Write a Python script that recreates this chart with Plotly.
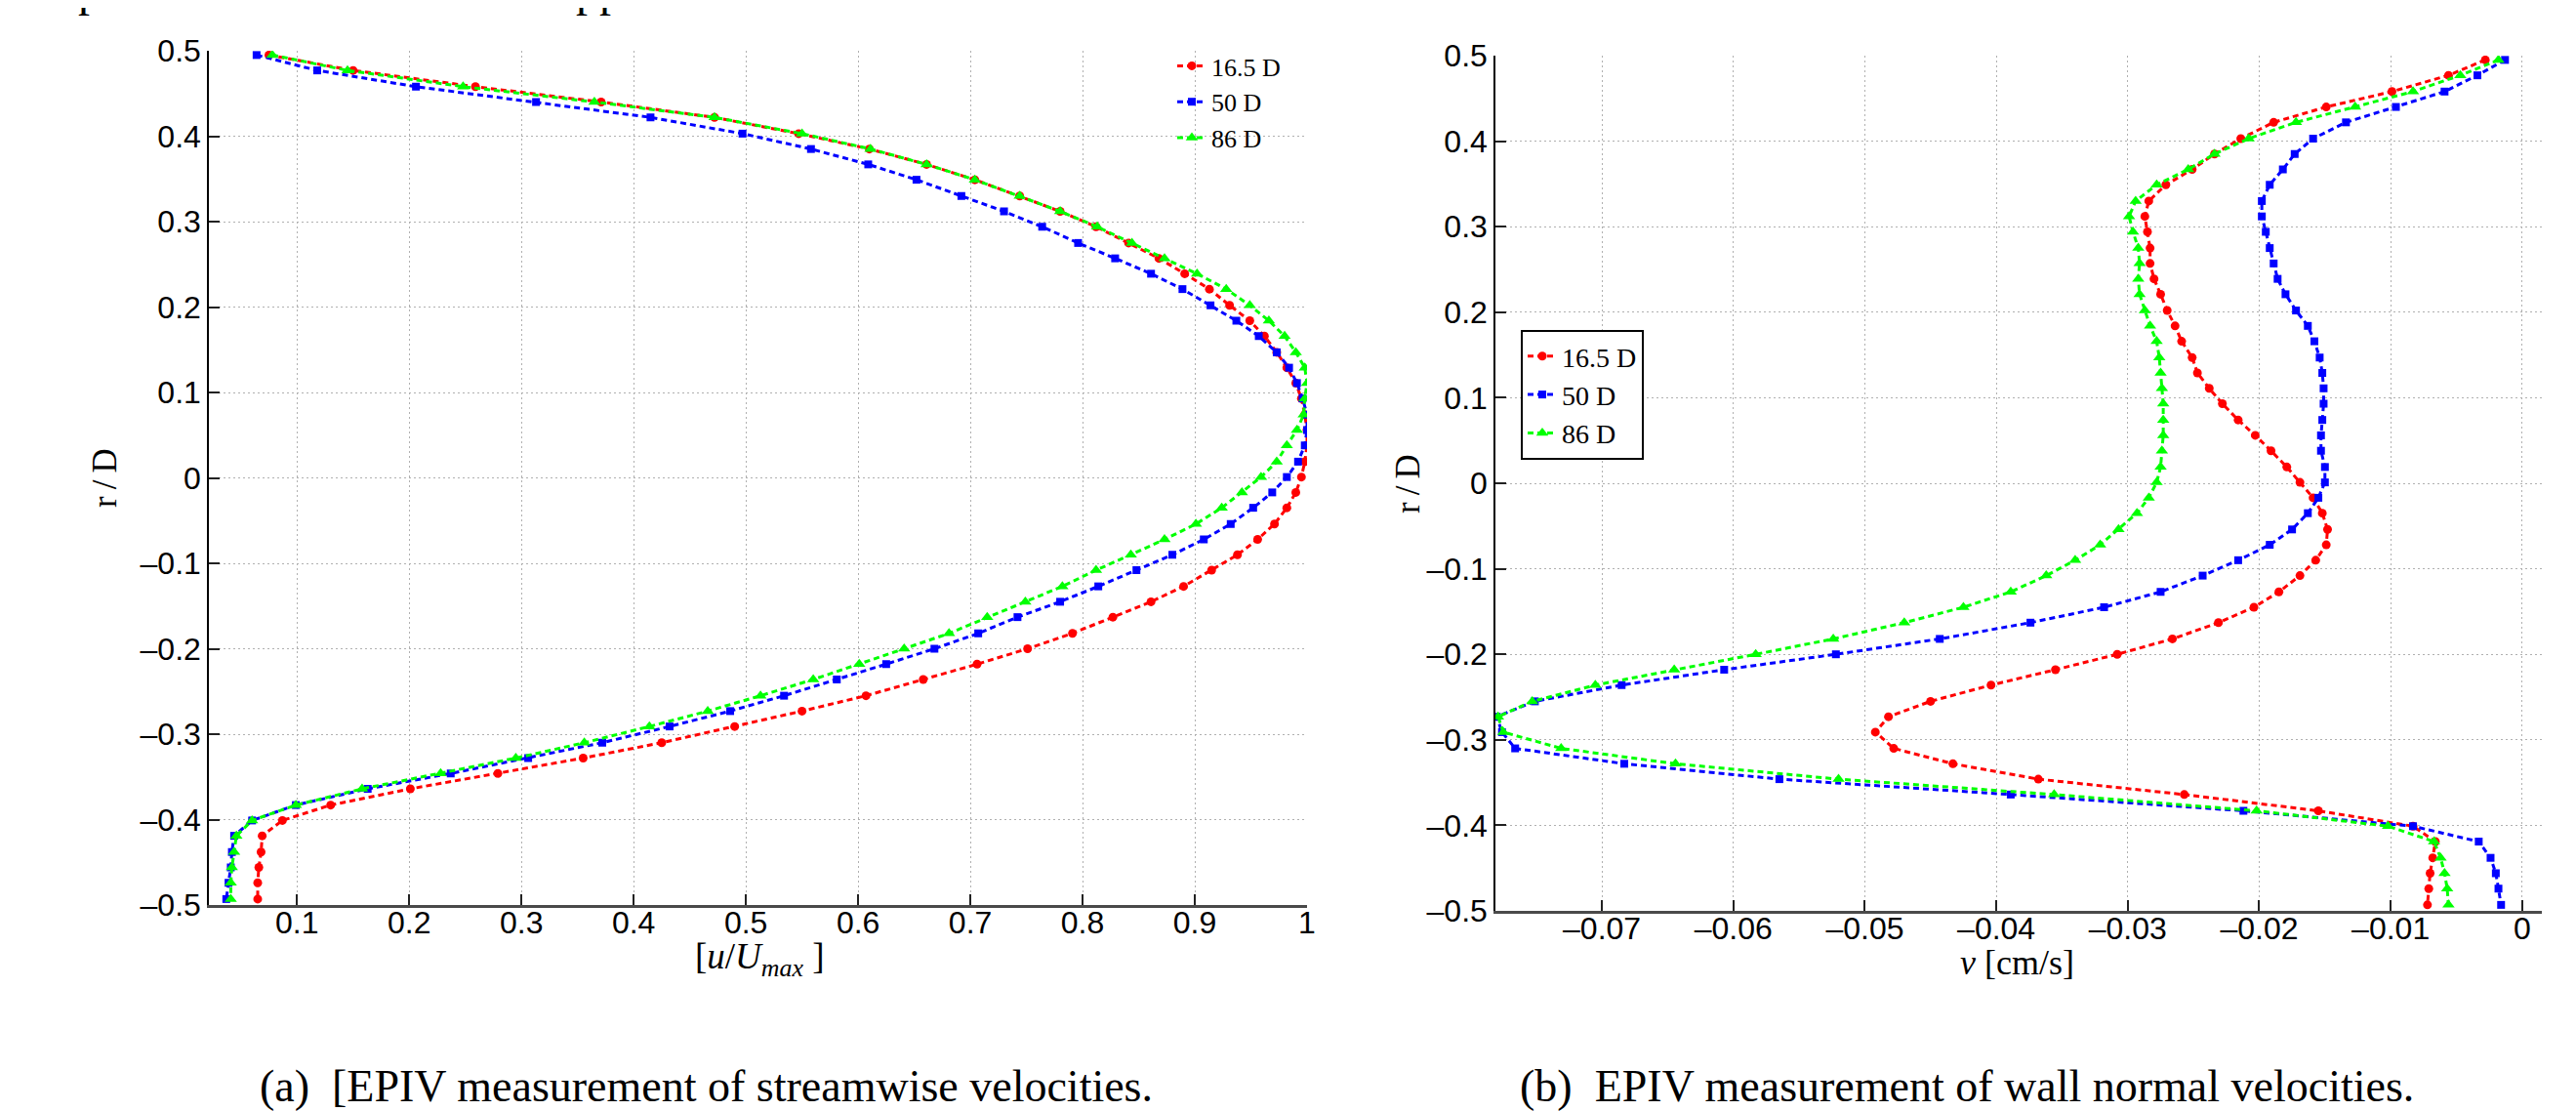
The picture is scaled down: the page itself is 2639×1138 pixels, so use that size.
import plotly.graph_objects as go

# Figure size in pixels
W, H = 2639, 1138

# Radial positions r/D shared by every profile (top to bottom)
R_D = [0.495, 0.477, 0.458, 0.440, 0.422, 0.403, 0.385, 0.367, 0.349, 0.330,
       0.312, 0.294, 0.275, 0.257, 0.239, 0.221, 0.202, 0.184, 0.166, 0.147,
       0.129, 0.111, 0.093, 0.074, 0.056, 0.038, 0.019, 0.001, -0.017, -0.035,
       -0.054, -0.072, -0.090, -0.108, -0.127, -0.145, -0.163, -0.182, -0.200, -0.218,
       -0.236, -0.255, -0.273, -0.291, -0.310, -0.328, -0.346, -0.364, -0.383, -0.401,
       -0.419, -0.438, -0.456, -0.474, -0.493]

# (a) streamwise velocity u/Umax
U_16_5D = [0.075, 0.150, 0.259, 0.371, 0.472, 0.547, 0.610, 0.661, 0.704, 0.744,
           0.780, 0.812, 0.841, 0.868, 0.891, 0.913, 0.931, 0.949, 0.962, 0.973,
           0.982, 0.990, 0.995, 0.998, 1.000, 1.000, 0.998, 0.995, 0.990, 0.982,
           0.971, 0.956, 0.938, 0.915, 0.890, 0.861, 0.827, 0.791, 0.751, 0.706,
           0.658, 0.607, 0.550, 0.490, 0.425, 0.355, 0.279, 0.201, 0.130, 0.087,
           0.069, 0.068, 0.066, 0.065, 0.065]
U_50D = [0.064, 0.118, 0.206, 0.313, 0.415, 0.497, 0.558, 0.609, 0.652, 0.692,
         0.730, 0.764, 0.796, 0.829, 0.861, 0.889, 0.914, 0.937, 0.957, 0.973,
         0.984, 0.991, 0.996, 1.000, 1.000, 0.998, 0.992, 0.982, 0.969, 0.952,
         0.932, 0.908, 0.880, 0.848, 0.814, 0.780, 0.742, 0.707, 0.668, 0.625,
         0.581, 0.534, 0.486, 0.432, 0.372, 0.306, 0.237, 0.163, 0.099, 0.060,
         0.044, 0.042, 0.041, 0.039, 0.037]
U_86D = [0.078, 0.145, 0.248, 0.365, 0.472, 0.550, 0.611, 0.661, 0.704, 0.744,
         0.780, 0.813, 0.844, 0.873, 0.902, 0.928, 0.949, 0.966, 0.980, 0.990,
         0.998, 1.000, 0.998, 0.997, 0.991, 0.982, 0.973, 0.959, 0.942, 0.924,
         0.901, 0.873, 0.843, 0.812, 0.782, 0.749, 0.715, 0.681, 0.641, 0.601,
         0.560, 0.513, 0.466, 0.414, 0.356, 0.295, 0.228, 0.158, 0.099, 0.060,
         0.046, 0.044, 0.042, 0.041, 0.041]

# (b) wall normal velocity v [cm/s]
V_16_5D = [-0.0028, -0.0056, -0.0099, -0.0149, -0.0189, -0.0214, -0.0234, -0.0251, -0.0271, -0.0284,
           -0.0287, -0.0285, -0.0283, -0.0283, -0.0280, -0.0275, -0.0270, -0.0264, -0.0259, -0.0251,
           -0.0247, -0.0238, -0.0228, -0.0216, -0.0203, -0.0191, -0.0179, -0.0169, -0.0159, -0.0152,
           -0.0148, -0.0149, -0.0157, -0.0169, -0.0185, -0.0204, -0.0231, -0.0266, -0.0308, -0.0355,
           -0.0404, -0.0450, -0.0482, -0.0492, -0.0478, -0.0433, -0.0368, -0.0257, -0.0155, -0.0083,
           -0.0066, -0.0068, -0.0070, -0.0071, -0.0072]
V_50D = [-0.0013, -0.0034, -0.0059, -0.0096, -0.0134, -0.0159, -0.0173, -0.0182, -0.0192, -0.0198,
         -0.0198, -0.0195, -0.0192, -0.0189, -0.0186, -0.0180, -0.0172, -0.0163, -0.0158, -0.0154,
         -0.0152, -0.0151, -0.0151, -0.0152, -0.0153, -0.0153, -0.0150, -0.0150, -0.0155, -0.0163,
         -0.0175, -0.0192, -0.0216, -0.0243, -0.0275, -0.0318, -0.0374, -0.0443, -0.0522, -0.0607,
         -0.0685, -0.0751, -0.0780, -0.0776, -0.0766, -0.0683, -0.0565, -0.0389, -0.0212, -0.0083,
         -0.0033, -0.0024, -0.0020, -0.0018, -0.0016]
V_86D = [-0.0018, -0.0047, -0.0083, -0.0127, -0.0172, -0.0208, -0.0234, -0.0254, -0.0278, -0.0294,
         -0.0299, -0.0296, -0.0292, -0.0291, -0.0292, -0.0291, -0.0287, -0.0283, -0.0278, -0.0276,
         -0.0275, -0.0274, -0.0273, -0.0273, -0.0273, -0.0274, -0.0275, -0.0278, -0.0284, -0.0293,
         -0.0307, -0.0321, -0.0340, -0.0362, -0.0389, -0.0425, -0.0470, -0.0524, -0.0583, -0.0645,
         -0.0705, -0.0753, -0.0779, -0.0775, -0.0731, -0.0644, -0.0520, -0.0356, -0.0202, -0.0102,
         -0.0067, -0.0062, -0.0059, -0.0057, -0.0056]

LABELS = ["16.5 D", "50 D", "86 D"]

# Tick positions and labels
R_TICKS = [-0.5, -0.4, -0.3, -0.2, -0.1, 0, 0.1, 0.2, 0.3, 0.4, 0.5]
R_TICKTEXT = ["–0.5", "–0.4", "–0.3", "–0.2", "–0.1", "0", "0.1", "0.2", "0.3", "0.4", "0.5"]
U_TICKS = [0.1, 0.2, 0.3, 0.4, 0.5, 0.6, 0.7, 0.8, 0.9, 1.0]
U_TICKTEXT = ["0.1", "0.2", "0.3", "0.4", "0.5", "0.6", "0.7", "0.8", "0.9", "1"]
V_TICKS = [-0.07, -0.06, -0.05, -0.04, -0.03, -0.02, -0.01, 0]
V_TICKTEXT = ["–0.07", "–0.06", "–0.05", "–0.04", "–0.03", "–0.02", "–0.01", "0"]

# Marker style per series: colour, symbol, size
STYLES = [("#ff0000", "circle", 9), ("#0000ff", "square", 8), ("#00ff00", "triangle-up", 11)]

SANS = "Liberation Sans, Arial, Helvetica, sans-serif"
SERIF = "Liberation Serif, Times New Roman, serif"


def fx(px):
    return px / W


def fy(py):
    return 1 - py / H


def add_profiles(fig, xs_list, xaxis, yaxis, legend):
    for xs, name, (color, symbol, size) in zip(xs_list, LABELS, STYLES):
        fig.add_trace(go.Scatter(
            x=xs, y=R_D, name=name, mode="lines+markers",
            xaxis=xaxis, yaxis=yaxis, legend=legend,
            line=dict(color=color, width=3, dash="6px,4px"),
            marker=dict(color=color, symbol=symbol, size=size, line=dict(width=0)),
        ))


fig = go.Figure()
add_profiles(fig, [U_16_5D, U_50D, U_86D], "x", "y", "legend")
add_profiles(fig, [V_16_5D, V_50D, V_86D], "x2", "y2", "legend2")

axis_common = dict(
    ticks="inside", ticklen=11, tickwidth=1.5, tickcolor="#222222",
    showgrid=True, gridcolor="#b0b0b0", gridwidth=1, griddash="2px,3px",
    zeroline=False, showline=True, automargin=False,
    tickfont=dict(family=SANS, size=32, color="black"),
)
x_common = dict(axis_common, linecolor="#4a4a4a", linewidth=3, ticklabelstandoff=-12)
y_common = dict(axis_common, linecolor="black", linewidth=1.5,
                tickvals=R_TICKS, ticktext=R_TICKTEXT, range=[-0.5, 0.5])

fig.update_layout(
    width=W, height=H, autosize=False,
    margin=dict(l=0, r=0, t=0, b=0),
    paper_bgcolor="white", plot_bgcolor="white",
    showlegend=True,
    xaxis=dict(x_common, domain=[fx(206), fx(1331)], range=[0.0215, 1.0],
               tickvals=U_TICKS, ticktext=U_TICKTEXT, anchor="y"),
    yaxis=dict(y_common, domain=[fy(919), fy(44)], anchor="x"),
    xaxis2=dict(x_common, domain=[fx(1524), fx(2596)], range=[-0.0781, 0.0015],
                tickvals=V_TICKS, ticktext=V_TICKTEXT, anchor="y2"),
    yaxis2=dict(y_common, domain=[fy(925), fy(49)], anchor="x2"),
    legend=dict(x=fx(1193), y=fy(36), xanchor="left", yanchor="top",
                bgcolor="rgba(0,0,0,0)", borderwidth=0, tracegroupgap=0,
                font=dict(family=SERIF, size=26, color="black")),
    legend2=dict(x=fx(1550), y=fy(330), xanchor="left", yanchor="top",
                 bgcolor="white", bordercolor="black", borderwidth=2, tracegroupgap=0,
                 font=dict(family=SERIF, size=28, color="black")),
)

annotations = [
    # axis titles
    dict(x=fx(100), y=fy(482), text="r\u2009/\u2009D", textangle=-90, font=dict(family=SERIF, size=35)),
    dict(x=fx(1434), y=fy(488), text="r\u2009/\u2009D", textangle=-90, font=dict(family=SERIF, size=35)),
    dict(x=fx(770), y=fy(974), text="[<i>u</i>/<i>U</i><sub><i>max</i></sub> ]",
         font=dict(family=SERIF, size=37)),
    dict(x=fx(2058), y=fy(978), text="<i>v</i> [cm/s]", font=dict(family=SERIF, size=36)),
    # sub-figure captions
    dict(x=fx(715), y=fy(1104), text="(a)  [EPIV measurement of streamwise velocities.",
         font=dict(family=SERIF, size=46)),
    dict(x=fx(2007), y=fy(1104), text="(b)  EPIV measurement of wall normal velocities.",
         font=dict(family=SERIF, size=46)),
    # descenders of the page text cut off above the figure
    dict(x=fx(84), y=fy(10), yanchor="bottom", text="p", font=dict(family=SERIF, size=48)),
    dict(x=fx(606), y=fy(10), yanchor="bottom", text="pp", font=dict(family=SERIF, size=48)),
]
for a in annotations:
    a.setdefault("xref", "paper")
    a.setdefault("yref", "paper")
    a.setdefault("xanchor", "center")
    a.setdefault("yanchor", "middle")
    a.setdefault("showarrow", False)
    a["font"].setdefault("color", "black")
fig.update_layout(annotations=annotations)

fig.write_html("out.html")
